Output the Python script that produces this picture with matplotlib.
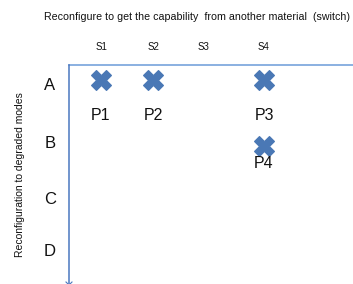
import matplotlib
matplotlib.use("Agg")
import matplotlib.pyplot as plt

plt.rcParams['font.family'] = ['Liberation Sans', 'DejaVu Sans']

# Data
columns = ['S1', 'S2', 'S3', 'S4']
rows = ['A', 'B', 'C', 'D']
point_names = ['P1', 'P2', 'P3', 'P4']
point_cols = ['S1', 'S2', 'S4', 'S4']
point_rows = ['A', 'A', 'A', 'B']
title = 'Reconfigure to get the capability  from another material  (switch)'
ylabel = 'Reconfiguration to degraded modes'

# Layout (pixel-like coordinates)
col_x = {'S1': 101, 'S2': 153, 'S3': 203, 'S4': 264}
row_label_y = {'A': 86, 'B': 144, 'C': 199, 'D': 252}
row_mark_y = {'A': 80, 'B': 146, 'C': 199, 'D': 252}

W, H = 353, 284
fig = plt.figure(figsize=(W / 100, H / 100), dpi=100)
left = 69
top = 65
ax = fig.add_axes([left / W, 0, 1 - left / W, (H - top) / H])
ax.set_xlim(left, W)
ax.set_ylim(H, top)
ax.axis('off')

blue = '#4a78b5'
# spines
ax.plot([left, W], [top, top], color='#6b9bd8', lw=1.1, clip_on=False)
ax.plot([left, left], [top, H + 5], color='#4a78c0', lw=1.1, clip_on=False)
ax.plot([left - 3, left, left + 3], [H - 2, H + 1, H - 2], color='#4a78c0',
        lw=0.8, clip_on=False)

# markers
for name, c, r in zip(point_names, point_cols, point_rows):
    x = col_x[c]
    y = row_mark_y[r]
    ax.plot(x, y, marker='X', markersize=14, color=blue, markeredgecolor=blue,
            markeredgewidth=0.8, clip_on=False)
    ax.text(x, y + (35 if r == 'A' else 17), name, ha='center', va='center',
            fontsize=11.5, color='#111111')

# column labels
for c in columns:
    ax.text(col_x[c], 47, c, ha='center', va='center', fontsize=7, color='#111111',
            clip_on=False)

# row labels
for r in rows:
    ax.text(50, row_label_y[r], r, ha='center', va='center', fontsize=12,
            color='#111111', clip_on=False)

fig.text(197 / W, 1 - 17 / H, title, ha='center', va='center', fontsize=7.7,
         color='#111111')
fig.text(20 / W, 1 - 175 / H, ylabel, ha='center', va='center', fontsize=7.5,
         rotation=90, color='#111111')

fig.savefig('out.png', dpi=100)
